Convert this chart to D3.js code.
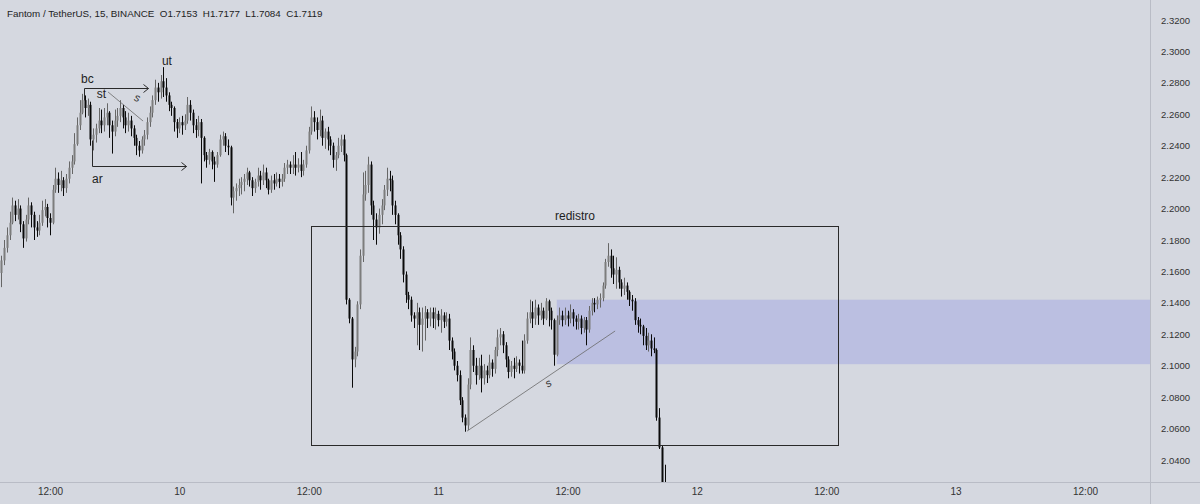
<!DOCTYPE html>
<html><head><meta charset="utf-8">
<script src="https://cdn.jsdelivr.net/npm/d3@7/dist/d3.min.js"></script>
<style>
html,body{margin:0;padding:0;background:#d5d8e0;}
svg{display:block;}
text{font-family:"Liberation Sans",Arial,sans-serif;}
</style></head>
<body><svg id="c" width="1200" height="504"></svg>
<script>
// ---- data ----
const firstOpen = 2.159;
const closes = [2.167,2.175,2.183,2.191,2.202,2.196,2.200,2.190,2.181,2.193,2.202,2.196,2.188,2.186,2.191,2.199,2.201,2.194,2.191,2.212,
2.219,2.215,2.218,2.213,2.219,2.226,2.230,2.241,2.253,2.261,2.269,2.264,2.266,2.244,2.247,2.251,2.256,2.253,2.258,2.261,
2.253,2.249,2.256,2.259,2.264,2.258,2.253,2.256,2.251,2.245,2.240,2.237,2.244,2.247,2.255,2.261,2.269,2.277,2.274,2.281,
2.277,2.272,2.266,2.264,2.255,2.251,2.255,2.253,2.256,2.266,2.261,2.253,2.250,2.255,2.245,2.234,2.231,2.236,2.230,2.228,
2.234,2.244,2.246,2.240,2.239,2.207,2.211,2.213,2.215,2.217,2.219,2.223,2.218,2.213,2.217,2.221,2.218,2.223,2.218,2.212,
2.218,2.216,2.219,2.217,2.219,2.226,2.228,2.226,2.228,2.226,2.228,2.224,2.228,2.237,2.249,2.258,2.255,2.250,2.256,2.245,
2.249,2.244,2.240,2.231,2.234,2.240,2.244,2.234,2.142,2.130,2.104,2.109,2.139,2.170,2.209,2.215,2.228,2.202,2.193,2.188,
2.196,2.202,2.212,2.219,2.218,2.202,2.196,2.183,2.174,2.158,2.145,2.142,2.132,2.130,2.134,2.126,2.130,2.134,2.130,2.134,
2.130,2.133,2.129,2.132,2.128,2.130,2.116,2.109,2.100,2.094,2.078,2.067,2.062,2.088,2.110,2.100,2.094,2.100,2.092,2.097,
2.094,2.102,2.098,2.110,2.118,2.120,2.113,2.104,2.096,2.100,2.098,2.102,2.100,2.097,2.116,2.130,2.134,2.130,2.137,2.132,
2.135,2.130,2.141,2.135,2.129,2.107,2.129,2.132,2.129,2.132,2.130,2.134,2.130,2.128,2.130,2.124,2.129,2.123,2.135,2.140,
2.139,2.142,2.143,2.151,2.166,2.170,2.162,2.158,2.161,2.153,2.149,2.151,2.147,2.142,2.141,2.129,2.126,2.125,2.119,2.113,
2.116,2.111,2.110,2.067,2.048,2.018,2.012];
const highs = [2.170,2.180,2.188,2.198,2.207,2.205,2.206,2.202,2.192,2.196,2.207,2.204,2.198,2.192,2.196,2.205,2.206,2.203,2.197,2.215,
2.226,2.223,2.224,2.220,2.222,2.230,2.234,2.248,2.258,2.269,2.273,2.272,2.270,2.268,2.251,2.254,2.264,2.263,2.264,2.267,
2.262,2.256,2.263,2.264,2.269,2.266,2.262,2.261,2.259,2.253,2.247,2.243,2.246,2.250,2.258,2.265,2.272,2.282,2.280,2.285,
2.290,2.283,2.274,2.268,2.265,2.257,2.258,2.259,2.260,2.271,2.269,2.263,2.257,2.259,2.257,2.246,2.236,2.238,2.237,2.233,
2.236,2.247,2.249,2.248,2.244,2.240,2.214,2.216,2.219,2.220,2.222,2.226,2.224,2.220,2.219,2.226,2.224,2.228,2.226,2.219,
2.221,2.222,2.223,2.222,2.222,2.229,2.231,2.230,2.234,2.236,2.232,2.236,2.231,2.240,2.252,2.265,2.262,2.258,2.263,2.259,
2.251,2.252,2.246,2.242,2.236,2.245,2.247,2.247,2.235,2.143,2.131,2.112,2.141,2.174,2.223,2.224,2.233,2.230,2.205,2.197,
2.200,2.206,2.215,2.226,2.224,2.221,2.205,2.197,2.185,2.176,2.160,2.147,2.144,2.134,2.140,2.137,2.137,2.138,2.136,2.137,
2.137,2.137,2.135,2.136,2.134,2.134,2.133,2.118,2.111,2.103,2.097,2.080,2.069,2.092,2.118,2.113,2.105,2.105,2.107,2.101,
2.100,2.107,2.104,2.112,2.123,2.124,2.122,2.115,2.106,2.103,2.105,2.106,2.104,2.116,2.120,2.134,2.142,2.141,2.142,2.139,
2.140,2.137,2.143,2.142,2.137,2.130,2.132,2.137,2.135,2.137,2.135,2.139,2.136,2.132,2.133,2.132,2.131,2.131,2.138,2.143,
2.143,2.144,2.146,2.153,2.168,2.178,2.174,2.170,2.169,2.163,2.155,2.156,2.153,2.148,2.145,2.143,2.131,2.130,2.126,2.124,
2.121,2.120,2.118,2.111,2.073,2.049,2.037];
const lows = [2.150,2.164,2.172,2.180,2.190,2.192,2.193,2.185,2.175,2.179,2.190,2.188,2.180,2.182,2.183,2.189,2.195,2.188,2.183,2.190,
2.210,2.210,2.211,2.208,2.210,2.216,2.222,2.228,2.240,2.250,2.260,2.258,2.259,2.240,2.237,2.242,2.248,2.248,2.249,2.253,
2.245,2.235,2.246,2.252,2.255,2.251,2.248,2.249,2.246,2.240,2.234,2.233,2.235,2.240,2.244,2.252,2.258,2.266,2.268,2.270,
2.271,2.268,2.262,2.259,2.249,2.245,2.248,2.247,2.250,2.254,2.256,2.248,2.245,2.246,2.216,2.230,2.226,2.228,2.225,2.217,
2.226,2.233,2.240,2.236,2.234,2.202,2.197,2.205,2.208,2.209,2.211,2.215,2.214,2.208,2.210,2.214,2.212,2.215,2.213,2.209,
2.210,2.212,2.214,2.213,2.214,2.217,2.222,2.222,2.222,2.221,2.223,2.220,2.221,2.226,2.235,2.247,2.249,2.244,2.246,2.240,
2.238,2.237,2.234,2.226,2.224,2.232,2.236,2.230,2.139,2.127,2.086,2.099,2.106,2.136,2.166,2.205,2.210,2.196,2.180,2.177,
2.184,2.190,2.199,2.208,2.211,2.196,2.190,2.177,2.168,2.153,2.140,2.136,2.128,2.124,2.113,2.110,2.109,2.116,2.124,2.125,
2.124,2.123,2.125,2.121,2.124,2.125,2.110,2.104,2.097,2.090,2.075,2.064,2.058,2.059,2.085,2.096,2.088,2.091,2.083,2.088,
2.089,2.092,2.093,2.095,2.106,2.113,2.108,2.099,2.092,2.093,2.092,2.096,2.095,2.095,2.095,2.114,2.127,2.124,2.126,2.126,
2.129,2.126,2.129,2.125,2.123,2.100,2.106,2.126,2.125,2.126,2.125,2.127,2.125,2.123,2.123,2.120,2.121,2.113,2.121,2.132,
2.134,2.136,2.137,2.141,2.149,2.163,2.156,2.152,2.149,2.149,2.144,2.145,2.142,2.138,2.135,2.126,2.121,2.120,2.113,2.110,
2.109,2.106,2.108,2.065,2.047,2.010,2.005];

const yTicks = [2.32,2.30,2.28,2.26,2.24,2.22,2.20,2.18,2.16,2.14,2.12,2.10,2.08,2.06,2.04];
const xTickTimes = [[9,12],[10,0],[10,12],[11,0],[11,12],[12,0],[12,12],[13,0],[13,12]];
const xTickLabels = ["12:00","10","12:00","11","12:00","12","12:00","13","12:00"];
const header = "Fantom / TetherUS, 15, BINANCE  O1.7153  H1.7177  L1.7084  C1.7119";

// annotations in [day, hour, minute, price]
const zone = {from:[11,11,0], top:2.142, bottom:2.101};
const box = {from:[10,12,10], to:[12,13,5], top:2.189, bottom:2.0495, label:"redistro"};
const bcBracket = [[9,15,9,2.2691],[9,15,9,2.2767],[9,21,5,2.2767]];
const arBracket = [[9,15,54,2.2436],[9,15,54,2.2271],[10,0,37,2.2271]];
const stLine = [[9,17,23,2.2742],[9,20,38,2.2557]];
const sLine = [[11,2,41,2.0584],[11,16,25,2.1221]];
const labels = [
  {t:"bc", at:[9,14,53,2.2799]},
  {t:"st", at:[9,16,20,2.2703]},
  {t:"ut", at:[9,22,23,2.2913]},
  {t:"ar", at:[9,15,54,2.2162]}
];
const sMarks = [{at:[9,19,45,2.2690], rot:20},{at:[11,10,10,2.0860], rot:-30}];

// ---- chart ----
const W = 1200, H = 504, plotR = 1150, plotB = 482;
const T = (d,h,m) => new Date(Date.UTC(2021,10,d,h,m||0));
const x = d3.scaleUtc().domain([T(9,12), T(13,12)]).range([50, 1085]);
const y = d3.scaleLinear().domain([2.04, 2.32]).range([460, 20]);
const svg = d3.select("#c");

svg.append("rect").attr("width",W).attr("height",H).attr("fill","#d5d8e0");
svg.append("defs").append("clipPath").attr("id","clip")
  .append("rect").attr("x",0).attr("y",0).attr("width",plotR).attr("height",plotB);
const plot = svg.append("g").attr("clip-path","url(#clip)");

// zone
plot.append("rect")
  .attr("x", x(T(...zone.from))).attr("y", y(zone.top))
  .attr("width", plotR - x(T(...zone.from))).attr("height", y(zone.bottom)-y(zone.top))
  .attr("fill","rgba(130,132,230,0.30)");

// candles
const t0 = T(9,7,30).getTime();
const bars = closes.map((c,i)=>({
  t:new Date(t0 + i*15*60000),
  o: i===0 ? firstOpen : closes[i-1], c, h:highs[i], l:lows[i]
}));
const g = plot.append("g");
bars.forEach(b=>{
  const cx = Math.round(x(b.t)) + 0.5;
  const up = b.c >= b.o;
  const col = up ? "#7d7d7d" : "#0a0a0a";
  const hi = Math.max(b.h,b.o,b.c), lo = Math.min(b.l,b.o,b.c);
  g.append("line").attr("x1",cx).attr("x2",cx).attr("y1",y(hi)).attr("y2",y(lo))
    .attr("stroke", up ? "#666" : "#0a0a0a").attr("stroke-width",1);
  const top = y(Math.max(b.o,b.c)), bot = y(Math.min(b.o,b.c));
  g.append("rect").attr("x",cx-1).attr("width",2)
    .attr("y",top).attr("height",Math.max(1,bot-top)).attr("fill",col);
});

// box
const bx0 = Math.round(x(T(...box.from)))+0.5, bx1 = Math.round(x(T(...box.to)))+0.5;
plot.append("rect").attr("x",bx0).attr("y",Math.round(y(box.top))+0.5)
  .attr("width",bx1-bx0).attr("height",Math.round(y(box.bottom))-Math.round(y(box.top)))
  .attr("fill","none").attr("stroke","#2a2a2a").attr("stroke-width",1);
plot.append("text").attr("x",(bx0+bx1)/2).attr("y",y(box.top)-6)
  .attr("text-anchor","middle").attr("font-size",12).attr("fill","#1e1e1e").text(box.label);

const P = a => [x(T(a[0],a[1],a[2])), y(a[3])];
const line = d3.line();
function bracket(pts){
  const p = pts.map(P).map(q=>[Math.round(q[0])+0.5, Math.round(q[1])+0.5]);
  plot.append("path").attr("d",line(p)).attr("fill","none").attr("stroke","#2a2a2a").attr("stroke-width",1);
  const e = p[p.length-1];
  plot.append("path").attr("d",line([[e[0]-5,e[1]-4],[e[0],e[1]],[e[0]-5,e[1]+4]]))
    .attr("fill","none").attr("stroke","#2a2a2a").attr("stroke-width",1);
}
bracket(bcBracket);
bracket(arBracket);
[stLine, sLine].forEach(l=>{
  plot.append("path").attr("d",line(l.map(P))).attr("fill","none")
    .attr("stroke","#6a6a6a").attr("stroke-width",0.8);
});
labels.forEach(l=>{
  const p = P(l.at);
  plot.append("text").attr("x",p[0]).attr("y",p[1]).attr("font-size",12).attr("fill","#1e1e1e").text(l.t);
});
sMarks.forEach(s=>{
  const p = P(s.at);
  plot.append("text").attr("transform",`translate(${p[0]},${p[1]}) rotate(${s.rot})`)
    .attr("font-size",11).attr("font-style","italic").attr("fill","#333").text("s");
});

// axes frame
svg.append("line").attr("x1",plotR+0.5).attr("x2",plotR+0.5).attr("y1",0).attr("y2",H)
  .attr("stroke","#b9bcc6");
svg.append("line").attr("x1",0).attr("x2",W).attr("y1",plotB+0.5).attr("y2",plotB+0.5)
  .attr("stroke","#b9bcc6");

// y axis
const yAxis = d3.axisRight(y).tickValues(yTicks).tickSize(0).tickPadding(0)
  .tickFormat(d3.format(".4f"));
const ya = svg.append("g").attr("transform",`translate(${plotR+11},0)`).call(yAxis);
ya.select(".domain").remove();
ya.selectAll("text").attr("font-size",9.5).attr("fill","#333")
  .attr("font-family","Liberation Sans, Arial, sans-serif");

// x axis
const xTicks = xTickTimes.map(d=>T(d[0],d[1]));
const xAxis = d3.axisBottom(x).tickValues(xTicks).tickSize(0).tickPadding(0)
  .tickFormat((d,i)=>xTickLabels[i]);
const xa = svg.append("g").attr("transform",`translate(0,${plotB+6})`).call(xAxis);
xa.select(".domain").remove();
xa.selectAll("text").attr("font-size",10).attr("fill","#333").attr("dy","0.71em")
  .attr("font-family","Liberation Sans, Arial, sans-serif");

// header
svg.append("text").attr("x",7).attr("y",17).attr("font-size",9.8).attr("fill","#222")
  .attr("xml:space","preserve").style("white-space","pre").text(header);
</script></body></html>
